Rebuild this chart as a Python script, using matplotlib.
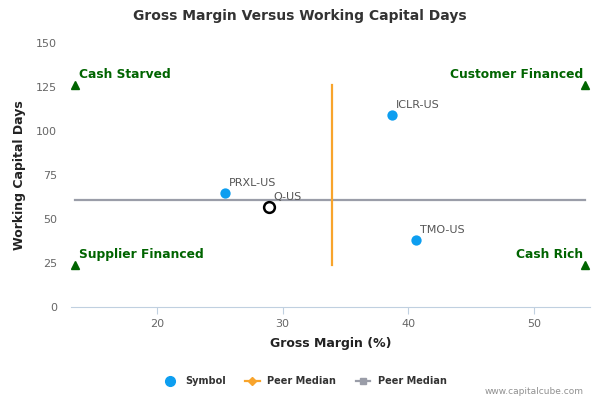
import matplotlib
matplotlib.use("Agg")
import matplotlib.pyplot as plt
from matplotlib.lines import Line2D

plt.rcParams['font.family'] = ['DejaVu Sans']

# data
symbols = ["PRXL-US", "ICLR-US", "TMO-US"]
gross_margin = [25.4, 38.7, 40.6]
wc_days = [64.9, 109.0, 38.2]

company = "Q-US"
company_gm = 28.9
company_wc = 57.0

peer_median_gm = 33.9
peer_median_wc = 60.8

# quadrant corner markers
quad_x = [13.5, 54.05]
quad_y = [24.0, 126.0]
quad_names = {"Cash Starved": (0, 1), "Customer Financed": (1, 1),
              "Supplier Financed": (0, 0), "Cash Rich": (1, 0)}

xticks = [20, 30, 40, 50]
yticks = [0, 25, 50, 75, 100, 125, 150]

blue = "#0d9ef0"
orange = "#f8a42c"
grey = "#9a9da8"
green = "#006400"
txt = "#666666"

fig = plt.figure(figsize=(6, 4), dpi=100)
ax = fig.add_axes([0.118, 0.2325, 0.865, 0.66])

# peer medians
ax.plot([quad_x[0], quad_x[1]], [peer_median_wc, peer_median_wc], color=grey, lw=1.6, zorder=2)
ax.plot([peer_median_gm, peer_median_gm], [quad_y[0], quad_y[1]], color=orange, lw=1.6, zorder=2)

# quadrant triangles + labels
for name, (i, j) in quad_names.items():
    ax.plot(quad_x[i], quad_y[j], marker="^", color=green, ms=6, ls="none", zorder=3)
    ha = "left" if i == 0 else "right"
    dx = 3 if i == 0 else -1
    ax.annotate(name, (quad_x[i], quad_y[j]), xytext=(dx, 3), textcoords="offset points",
                ha=ha, va="bottom", color=green, fontsize=8.8, fontweight="bold")

# peers
ax.scatter(gross_margin, wc_days, s=55, color=blue, zorder=4, linewidths=0)
for s, x, y in zip(symbols, gross_margin, wc_days):
    ax.annotate(s, (x, y), xytext=(3, 7), textcoords="offset points",
                ha="left", va="center", color="#555555", fontsize=8)

# the company
ax.scatter([company_gm], [company_wc], s=60, facecolor="white", edgecolor="black",
           linewidths=1.8, zorder=5)
ax.annotate(company, (company_gm, company_wc), xytext=(3, 7), textcoords="offset points",
            ha="left", va="center", color="#555555", fontsize=8)

ax.set_xlim(13.14, 54.44)
ax.set_ylim(0, 150)
ax.set_xticks(xticks)
ax.set_yticks(yticks)
for sp in ["top", "right", "left"]:
    ax.spines[sp].set_visible(False)
ax.spines["bottom"].set_color("#c0d0e0")
ax.tick_params(axis="x", colors="#c0d0e0", labelcolor=txt, labelsize=8, length=5, direction="out")
ax.tick_params(axis="y", length=0, labelcolor=txt, labelsize=8, pad=10)

ax.set_xlabel("Gross Margin (%)", fontsize=9, fontweight="bold", color="#222222", labelpad=6)
ax.set_ylabel("Working Capital Days", fontsize=9, fontweight="bold", color="#222222", labelpad=7)

fig.text(0.5, 0.96, "Gross Margin Versus Working Capital Days", ha="center", va="center",
         fontsize=10, fontweight="bold", color="#333333")

handles = [
    Line2D([], [], marker="o", color=blue, ls="none", ms=7),
    Line2D([], [], marker="D", color=orange, lw=1.6, ms=4),
    Line2D([], [], marker="s", color=grey, lw=1.6, ms=5),
]
leg = fig.legend(handles, ["Symbol", "Peer Median", "Peer Median"], loc="center",
                 bbox_to_anchor=(0.508, 0.0475), ncol=3, frameon=False,
                 prop={"size": 7, "weight": "bold"}, handlelength=1.5, columnspacing=2.0)
for t in leg.get_texts():
    t.set_color("#333333")

fig.text(0.972, 0.02, "www.capitalcube.com", ha="right", va="center", fontsize=6.5, color="#909090")

fig.savefig("out.png", dpi=100)
